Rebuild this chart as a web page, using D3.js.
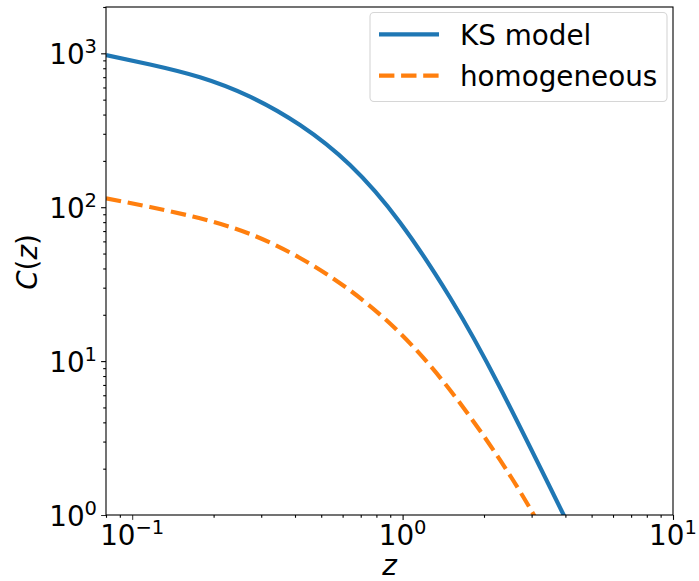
<!DOCTYPE html>
<html>
<head>
<meta charset="utf-8">
<script src="https://cdn.jsdelivr.net/npm/d3@7"></script>
<style>
  body { margin: 0; background: #fff; }
  text { font-family: "DejaVu Sans", sans-serif; fill: #000; }
</style>
</head>
<body>
<svg id="chart" width="699" height="581"></svg>
<script>
// data (z, C(z))
var ksZ = [0.0800, 0.1164, 0.1781, 0.2726, 0.4174, 0.6391, 0.9781, 1.497, 2.292, 3.920, 4.53]
var ksC = [975, 846, 699, 523, 342, 188, 79.6, 25.9, 6.74, 1.02, 0.61]
var homZ = [0.0800, 0.1164, 0.1781, 0.2726, 0.4174, 0.6391, 0.9781, 1.497, 2.292, 3.01, 3.36]
var homC = [114.3, 100.3, 84.7, 67.0, 46.8, 28.8, 15.2, 6.49, 2.28, 1.05, 0.74]
var seriesNames = ['KS model', 'homogeneous']
var xMajor = [0.1, 1, 10], xMajorExp = ['\u22121', '0', '1']
var yMajor = [1, 10, 100, 1000], yMajorExp = ['0', '1', '2', '3']

// constants
var COLORS = ['#1f77b4', '#ff7f0e']
var LEFT = 106, RIGHT = 673, TOP = 7, BOTTOM = 515
var FONT = 27.8, SUP = 19.5

var svg = d3.select('#chart')
var x = d3.scaleLog().domain([0.08, 10]).range([LEFT, RIGHT])
var y = d3.scaleLog().domain([1, 2000]).range([BOTTOM, TOP])

function minors (lo, hi, dom) {
  var out = []
  for (var e = lo; e <= hi; e++) {
    for (var m = 2; m <= 9; m++) {
      var v = m * Math.pow(10, e)
      if (v >= dom[0] * 0.999 && v <= dom[1] * 1.001) out.push(v)
    }
  }
  return out
}

svg.append('defs').append('clipPath').attr('id', 'clip')
  .append('rect').attr('x', LEFT).attr('y', TOP)
  .attr('width', RIGHT - LEFT).attr('height', BOTTOM - TOP)

// lines
var line = d3.line().x(function (d) { return x(d[0]) }).y(function (d) { return y(d[1]) })
  .curve(d3.curveNatural)
var plot = svg.append('g').attr('clip-path', 'url(#clip)')
plot.append('path')
  .attr('d', line(ksZ.map(function (z, i) { return [z, ksC[i]] })))
  .attr('fill', 'none').attr('stroke', COLORS[0]).attr('stroke-width', 4.17)
plot.append('path')
  .attr('d', line(homZ.map(function (z, i) { return [z, homC[i]] })))
  .attr('fill', 'none').attr('stroke', COLORS[1]).attr('stroke-width', 4.17)
  .attr('stroke-dasharray', '15.4,6.7')

// axes
var xAxis = svg.append('g').attr('transform', 'translate(0,' + BOTTOM + ')')
  .call(d3.axisBottom(x).tickValues(xMajor).tickSize(4.9).tickFormat(''))
xAxis.append('g').call(d3.axisBottom(x).tickValues(minors(-2, 0, x.domain())).tickSize(2.8).tickFormat(''))
var yAxis = svg.append('g').attr('transform', 'translate(' + LEFT + ',0)')
  .call(d3.axisLeft(y).tickValues(yMajor).tickSize(4.9).tickFormat(''))
yAxis.append('g').call(d3.axisLeft(y).tickValues(minors(0, 3, y.domain())).tickSize(2.8).tickFormat(''))
svg.selectAll('.domain').remove()
svg.selectAll('.tick line').attr('stroke', '#000').attr('stroke-width', 1.1)
xAxis.select('g').selectAll('.tick line').attr('stroke-width', 0.83)
yAxis.select('g').selectAll('.tick line').attr('stroke-width', 0.83)

// frame
svg.append('rect').attr('x', LEFT).attr('y', TOP)
  .attr('width', RIGHT - LEFT).attr('height', BOTTOM - TOP)
  .attr('fill', 'none').attr('stroke', '#000').attr('stroke-width', 1.1)

// tick labels
xMajor.forEach(function (v, i) {
  var t = svg.append('text').attr('x', x(v)).attr('y', BOTTOM + 29.5)
    .attr('text-anchor', 'middle').style('font-size', FONT + 'px')
  t.append('tspan').text('10')
  t.append('tspan').attr('dy', -11).style('font-size', SUP + 'px').text(xMajorExp[i])
})
yMajor.forEach(function (v, i) {
  var t = svg.append('text').attr('x', 97).attr('y', y(v) + 10.7)
    .attr('text-anchor', 'end').style('font-size', FONT + 'px')
  t.append('tspan').text('10')
  t.append('tspan').attr('dy', -11).style('font-size', SUP + 'px').text(yMajorExp[i])
})

// axis labels
svg.append('text').attr('x', (LEFT + RIGHT) / 2).attr('y', 575)
  .attr('text-anchor', 'middle').style('font-size', FONT + 'px').style('font-style', 'italic').text('z')
var yl = svg.append('text').attr('transform', 'translate(37,' + 262 + ') rotate(-90)')
  .attr('text-anchor', 'middle').style('font-size', FONT + 'px')
yl.append('tspan').style('font-style', 'italic').text('C')
yl.append('tspan').text('(')
yl.append('tspan').style('font-style', 'italic').text('z')
yl.append('tspan').text(')')

// legend
var lg = svg.append('g')
lg.append('rect').attr('x', 370).attr('y', 12.5).attr('width', 297).attr('height', 89)
  .attr('rx', 4).attr('fill', '#fff').attr('fill-opacity', 0.8)
  .attr('stroke', '#d6d6d6').attr('stroke-width', 1.1)
var rows = [34.3, 75.7]
seriesNames.forEach(function (name, i) {
  var l = lg.append('line').attr('x1', 379).attr('x2', 439).attr('y1', rows[i]).attr('y2', rows[i])
    .attr('stroke', COLORS[i]).attr('stroke-width', 4.17)
  if (i === 1) l.attr('stroke-dasharray', '15.4,6.7')
  lg.append('text').attr('x', 460).attr('y', rows[i] + 10.5)
    .style('font-size', FONT + 'px').text(name)
})
</script>
</body>
</html>
